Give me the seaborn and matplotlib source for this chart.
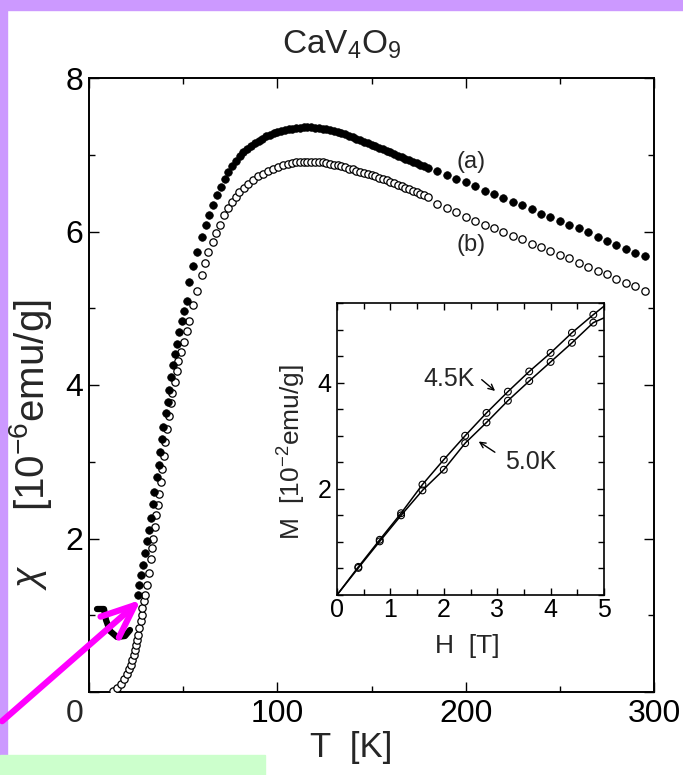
import numpy as np
import pandas as pd
import matplotlib
matplotlib.use("Agg")
import matplotlib.pyplot as plt
import seaborn as sns
from matplotlib.ticker import MultipleLocator
from matplotlib.patches import Rectangle, FancyArrowPatch
from matplotlib.lines import Line2D

# --- chi(T), curve (a): filled circles ---
t_a_rise = [25.8, 26.6, 27.4, 28.5, 29.7, 30.9, 32.0, 32.9, 34.1, 34.7, 35.9, 37.0,
            37.7, 38.6, 39.4, 40.8, 41.7, 42.4, 43.5, 44.4, 45.6, 46.5, 47.9, 49.2,
            50.4, 51.8, 53.2, 55.4, 57.5, 59.8, 61.9, 63.8, 65.9, 68.1, 70.0]
chi_a_rise = [1.27, 1.40, 1.52, 1.66, 1.81, 1.97, 2.11, 2.27, 2.45, 2.61, 2.80, 2.96,
              3.13, 3.30, 3.45, 3.63, 3.78, 3.94, 4.11, 4.26, 4.41, 4.54, 4.69, 4.84,
              4.97, 5.10, 5.34, 5.55, 5.73, 5.93, 6.09, 6.22, 6.35, 6.47, 6.58]
t_a_top = [72, 74, 76, 78, 80, 82, 84, 86, 88, 90, 92, 94, 96, 98, 100, 102, 104,
           106, 108, 110, 112, 114, 116, 118, 120, 122, 124, 126, 128, 130, 132, 134,
           136, 138, 140, 142, 144, 146, 148, 150, 152, 154, 156, 158, 160, 162, 164,
           166, 168, 170, 172, 174, 176, 178, 180]
chi_a_top = [6.68, 6.77, 6.85, 6.92, 6.98, 7.03, 7.07, 7.11, 7.15, 7.18, 7.21, 7.24,
             7.26, 7.28, 7.30, 7.31, 7.32, 7.33, 7.34, 7.35, 7.35, 7.36, 7.36, 7.36,
             7.35, 7.35, 7.34, 7.33, 7.32, 7.31, 7.30, 7.28, 7.27, 7.25, 7.23, 7.21,
             7.19, 7.17, 7.15, 7.13, 7.11, 7.09, 7.07, 7.05, 7.03, 7.01, 6.99, 6.97,
             6.95, 6.93, 6.91, 6.89, 6.87, 6.85, 6.83]
t_tail = [185, 190, 195, 200, 205, 210, 215, 220, 225, 230, 235, 240, 245, 250,
          255, 260, 265, 270, 275, 280, 285, 290, 295]
chi_a_tail = [6.79, 6.74, 6.69, 6.64, 6.59, 6.53, 6.49, 6.43, 6.38, 6.34, 6.29, 6.23,
              6.19, 6.14, 6.09, 6.04, 5.99, 5.93, 5.88, 5.82, 5.77, 5.72, 5.68]

# --- curve (b): open circles ---
t_b_rise = [12.6, 15.0, 16.8, 18.6, 20.0, 21.2, 22.1, 23.0, 23.9, 24.4, 25.1, 25.6,
            26.2, 26.7, 27.4, 27.9, 28.4, 29.2, 29.7, 30.6, 32.0, 32.9, 33.2, 34.1,
            35.0, 35.5, 36.4, 37.3, 38.0, 38.7, 39.8, 40.5, 41.6, 42.6, 43.3, 44.2,
            45.6, 46.5, 47.4, 48.8, 50.4, 51.8, 53.0, 55.3, 57.5, 59.8, 61.5, 63.3,
            65.6, 67.4, 69.5, 71.6, 73.6, 75.7, 77.8, 79.8, 82.2, 84.5, 87.2, 89.8,
            92.5, 95.1, 97.8, 100.4, 103.1, 105.7]
chi_b_rise = [0.01, 0.05, 0.10, 0.17, 0.23, 0.30, 0.35, 0.42, 0.48, 0.55, 0.61, 0.68,
              0.74, 0.83, 0.92, 1.00, 1.09, 1.18, 1.26, 1.39, 1.55, 1.73, 1.87, 2.00,
              2.15, 2.30, 2.43, 2.58, 2.74, 2.90, 3.07, 3.26, 3.43, 3.59, 3.77, 3.90,
              4.04, 4.18, 4.31, 4.43, 4.56, 4.70, 4.84, 5.04, 5.23, 5.43, 5.59, 5.73,
              5.86, 5.98, 6.09, 6.21, 6.30, 6.38, 6.45, 6.51, 6.57, 6.62, 6.67, 6.72,
              6.75, 6.79, 6.82, 6.84, 6.86, 6.88]
t_b_top = [108, 110, 112, 114, 116, 118, 120, 122, 124, 126, 128, 130, 132, 134,
           136, 138, 140, 142, 144, 146, 148, 150, 152, 154, 156, 158, 160, 162,
           164, 166, 168, 170, 172, 174, 176, 178, 180]
chi_b_top = [6.89, 6.90, 6.90, 6.91, 6.91, 6.91, 6.91, 6.90, 6.90, 6.89, 6.88, 6.87,
             6.86, 6.85, 6.84, 6.82, 6.81, 6.79, 6.78, 6.76, 6.75, 6.73, 6.72, 6.70,
             6.68, 6.67, 6.65, 6.63, 6.61, 6.59, 6.57, 6.55, 6.53, 6.51, 6.49, 6.47,
             6.45]
chi_b_tail = [6.36, 6.31, 6.25, 6.19, 6.14, 6.09, 6.05, 5.99, 5.94, 5.90, 5.84, 5.80,
              5.75, 5.69, 5.65, 5.59, 5.54, 5.49, 5.44, 5.38, 5.33, 5.29, 5.23]

# --- inset M(H) ---
h_pts = [0.4, 0.8, 1.2, 1.6, 2.0, 2.4, 2.8, 3.2, 3.6, 4.0, 4.4, 4.8]
m_45 = [0.53, 1.04, 1.54, 2.08, 2.55, 3.00, 3.43, 3.83, 4.21, 4.56, 4.94, 5.28]
m_50 = [0.51, 1.01, 1.50, 1.97, 2.36, 2.86, 3.25, 3.66, 4.03, 4.39, 4.75, 5.13]
h_line = [0.0] + h_pts + [5.0]
m_45_line = [0.0] + m_45 + [5.44]
m_50_line = [0.0] + m_50 + [5.22]

W, H = 683, 775


def fx(px):
    return px / W


def fy(py):
    return 1 - py / H


sns.set_style("ticks")
plt.rcParams['font.family'] = ['Liberation Sans', 'DejaVu Sans']
plt.rcParams['mathtext.fontset'] = 'custom'
plt.rcParams['mathtext.rm'] = 'Liberation Sans'
plt.rcParams['mathtext.it'] = 'Liberation Sans:italic'

df_a = pd.DataFrame({"T": t_a_rise + t_a_top + t_tail,
                     "chi": chi_a_rise + chi_a_top + chi_a_tail})
df_b = pd.DataFrame({"T": t_b_rise + t_b_top + t_tail,
                     "chi": chi_b_rise + chi_b_top + chi_b_tail})

fig = plt.figure(figsize=(6.83, 7.75), dpi=100)
fig.patch.set_facecolor('white')

# main panel
ax = fig.add_axes([fx(89), fy(692), fx(654) - fx(89), fy(78) - fy(692)])
sns.scatterplot(data=df_b, x="T", y="chi", ax=ax, color='white', edgecolor='black',
                s=28, linewidth=0.9, marker='o', zorder=3)
sns.scatterplot(data=df_a, x="T", y="chi", ax=ax, color='black', edgecolor='black',
                s=30, linewidth=0.5, marker='o', zorder=4)
ax.set_xlim(0, 300)
ax.set_ylim(0, 8)
ax.set_xticks([0, 100, 200, 300])
ax.set_xticklabels(['', '100', '200', '300'])
ax.set_yticks([0, 2, 4, 6, 8])
ax.set_yticklabels(['', '2', '4', '6', '8'])
ax.xaxis.set_minor_locator(MultipleLocator(50))
ax.yaxis.set_minor_locator(MultipleLocator(1))
ax.tick_params(which='both', direction='in', top=True, right=True, width=1.0,
               colors='black', labelsize=23)
ax.tick_params(which='major', length=7)
ax.tick_params(which='minor', length=4)
ax.tick_params(axis='x', pad=5)
ax.tick_params(axis='y', pad=4)
for sp in ax.spines.values():
    sp.set_linewidth(1.4)
    sp.set_color('black')
ax.set_xlabel('')
ax.set_ylabel('')
ax.text(0, 0, '0', fontsize=23, ha='right', va='top',
        transform=ax.transAxes + matplotlib.transforms.ScaledTranslation(-4 / 72, -5 / 72, fig.dpi_scale_trans))
ax.text(203, 6.9, '(a)', fontsize=17, ha='center', va='center')
ax.text(203, 5.82, '(b)', fontsize=17, ha='center', va='center')

fig.text(fx(342), fy(45), 'CaV$_4$O$_9$', fontsize=24, ha='center', va='center')
fig.text(fx(351), fy(748), 'T  [K]', fontsize=25, ha='center', va='center')
fig.text(fx(31), fy(577), r'$\chi$', fontsize=27, rotation=90, ha='center', va='center')
fig.text(fx(31), fy(405), '[10$^{-6}$emu/g]', fontsize=29, rotation=90,
         ha='center', va='center')

# inset panel
ax_in = fig.add_axes([fx(337), fy(595), fx(604) - fx(337), fy(303) - fy(595)])
sns.lineplot(x=h_line, y=m_45_line, ax=ax_in, color='black', lw=1.1)
sns.lineplot(x=h_line, y=m_50_line, ax=ax_in, color='black', lw=1.1)
sns.scatterplot(x=h_pts, y=m_45, ax=ax_in, facecolor='none', edgecolor='black',
                s=24, linewidth=0.8, zorder=3)
sns.scatterplot(x=h_pts, y=m_50, ax=ax_in, facecolor='none', edgecolor='black',
                s=24, linewidth=0.8, zorder=3)
ax_in.set_xlim(0, 5)
ax_in.set_ylim(0, 5.5)
ax_in.set_xticks([0, 1, 2, 3, 4, 5])
ax_in.set_yticks([2, 4])
ax_in.xaxis.set_minor_locator(MultipleLocator(0.5))
ax_in.yaxis.set_minor_locator(MultipleLocator(0.5))
ax_in.tick_params(which='both', direction='in', top=True, right=True, width=1.0,
                  colors='black', labelsize=18)
ax_in.tick_params(which='major', length=5)
ax_in.tick_params(which='minor', length=4)
ax_in.tick_params(axis='x', pad=2)
ax_in.tick_params(axis='y', pad=4)
for sp in ax_in.spines.values():
    sp.set_linewidth(1.2)
    sp.set_color('black')
ax_in.set_xlabel('')
ax_in.set_ylabel('')

ax_in.text(2.58, 4.07, '4.5K', fontsize=18, ha='right', va='center')
ax_in.annotate('', xy=(3.0, 3.81), xytext=(2.67, 4.09),
               arrowprops=dict(arrowstyle='->', lw=1.0, color='black'))
ax_in.text(3.14, 2.5, '5.0K', fontsize=18, ha='left', va='center')
ax_in.annotate('', xy=(2.61, 2.92), xytext=(3.0, 2.66),
               arrowprops=dict(arrowstyle='->', lw=1.0, color='black'))

fig.text(fx(467), fy(646), 'H  [T]', fontsize=19, ha='center', va='center')
fig.text(fx(292), fy(452), 'M  [10$^{-2}$emu/g]', fontsize=19, rotation=90,
         ha='center', va='center')

# page decoration: border strips, green box, marks
fig.add_artist(Rectangle((0, fy(10)), 1, fy(0) - fy(10), transform=fig.transFigure,
                         color='#CC99FF', zorder=0))
fig.add_artist(Rectangle((0, fy(755)), fx(7), fy(0) - fy(755), transform=fig.transFigure,
                         color='#CC99FF', zorder=0))
fig.add_artist(Rectangle((0, 0), fx(265), fy(755), transform=fig.transFigure,
                         color='#CCFFCC', zorder=0))
fig.add_artist(Line2D([fx(97), fx(104), fx(106), fx(110), fx(117), fx(125), fx(130)],
                      [fy(609), fy(609), fy(620), fy(631), fy(637), fy(636), fy(630)],
                      transform=fig.transFigure, color='black', lw=4.5,
                      solid_capstyle='round', solid_joinstyle='round', zorder=8))
fig.add_artist(FancyArrowPatch((fx(0), fy(723)), (fx(143), fy(598)),
                               transform=fig.transFigure, color='#FF00FF', lw=4.5,
                               arrowstyle='->,head_length=2.4,head_width=1.0',
                               mutation_scale=10, zorder=10))

fig.savefig('out.png', dpi=100)
